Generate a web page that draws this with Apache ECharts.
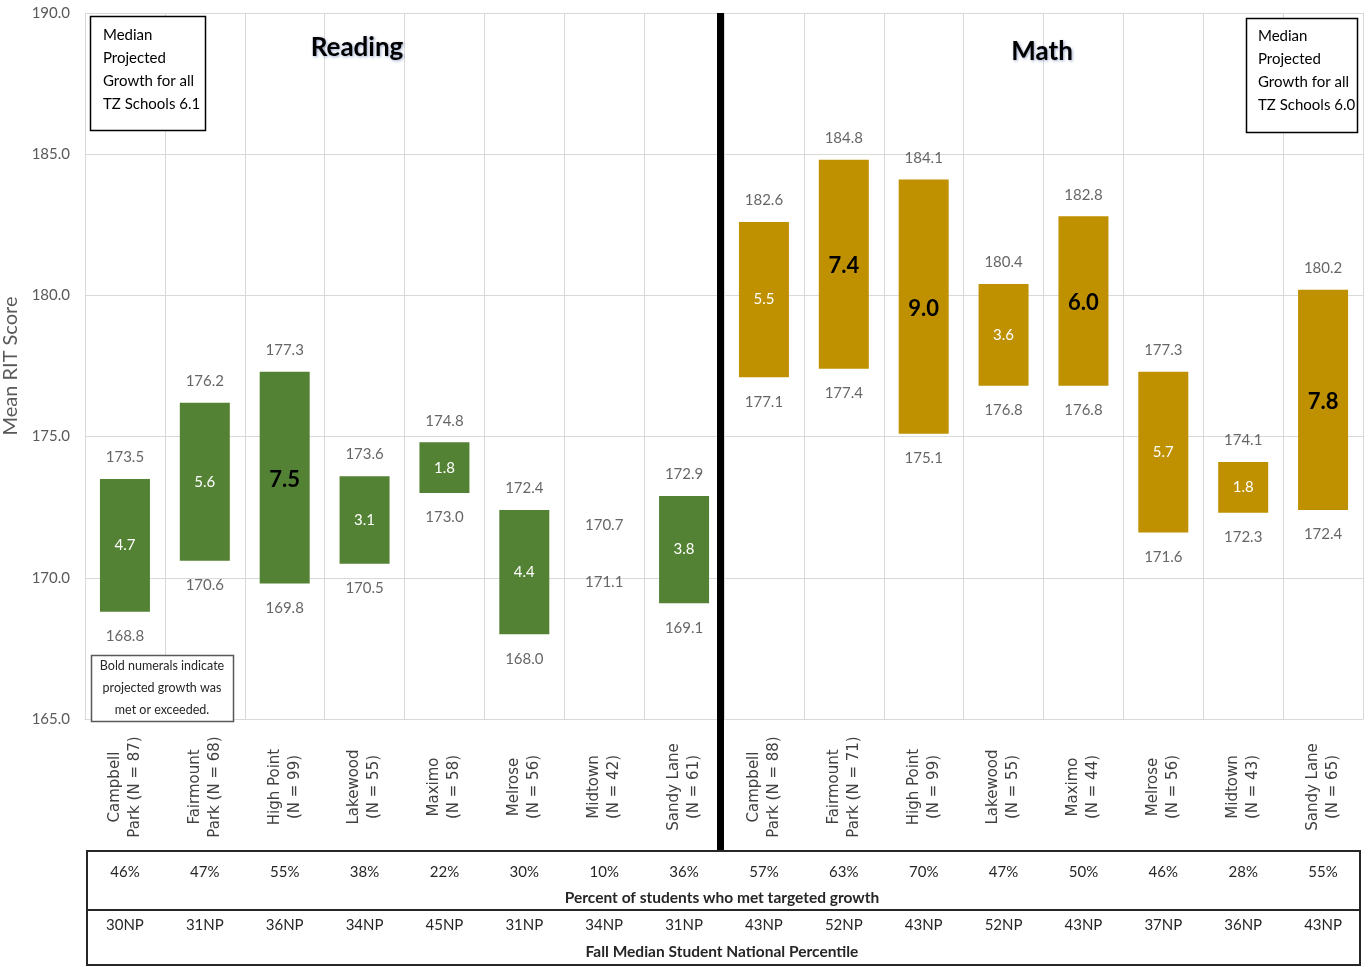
<!DOCTYPE html>
<html>
<head>
<meta charset="utf-8">
<script src="https://cdn.jsdelivr.net/npm/echarts@6/dist/echarts.min.js"></script>
<style>
html,body{margin:0;padding:0;background:#fff;}
#chart{width:1371px;height:967px;}
</style>
</head>
<body>
<div id="chart"></div>
<script>
// ---- data ----
const categories = [
  'Campbell\nPark (N = 87)', 'Fairmount\nPark (N = 68)', 'High Point\n(N = 99)', 'Lakewood\n(N = 55)',
  'Maximo\n(N = 58)', 'Melrose\n(N = 56)', 'Midtown\n(N = 42)', 'Sandy Lane\n(N = 61)',
  'Campbell\nPark (N = 88)', 'Fairmount\nPark (N = 71)', 'High Point\n(N = 99)', 'Lakewood\n(N = 55)',
  'Maximo\n(N = 44)', 'Melrose\n(N = 56)', 'Midtown\n(N = 43)', 'Sandy Lane\n(N = 65)'
];
const readingFall   = [168.8, 170.6, 169.8, 170.5, 173.0, 168.0, 171.1, 169.1];
const readingSpring = [173.5, 176.2, 177.3, 173.6, 174.8, 172.4, 170.7, 172.9];
const readingGrowth = [4.7, 5.6, 7.5, 3.1, 1.8, 4.4, null, 3.8];
const mathFall      = [177.1, 177.4, 175.1, 176.8, 176.8, 171.6, 172.3, 172.4];
const mathSpring    = [182.6, 184.8, 184.1, 180.4, 182.8, 177.3, 174.1, 180.2];
const mathGrowth    = [5.5, 7.4, 9.0, 3.6, 6.0, 5.7, 1.8, 7.8];
const projectedReading = 6.1;
const projectedMath = 6.0;
const pctMet = ['46%', '47%', '55%', '38%', '22%', '30%', '10%', '36%',
                '57%', '63%', '70%', '47%', '50%', '46%', '28%', '55%'];
const fallNP = ['30NP', '31NP', '36NP', '34NP', '45NP', '31NP', '34NP', '31NP',
                '43NP', '52NP', '43NP', '52NP', '43NP', '37NP', '36NP', '43NP'];
const yTicks = { min: 165, max: 190, interval: 5 };

// ---- derived ----
const fall = readingFall.concat(mathFall);
const spring = readingSpring.concat(mathSpring);
const growth = readingGrowth.concat(mathGrowth);
const projected = categories.map((c, i) => i < 8 ? projectedReading : projectedMath);
const baseData = fall.map((f, i) => Math.min(f, spring[i]));
const rangeData = fall.map((f, i) => +(Math.abs(spring[i] - f)).toFixed(1));
const topData = fall.map((f, i) => [i, Math.max(f, spring[i])]);
const botData = fall.map((f, i) => [i, Math.min(f, spring[i])]);

const GREEN = '#548235', GOLD = '#BF9000';
const FONT = 'Lato, "Open Sans", sans-serif';
const GRID = { left: 85, right: 8, top: 13, bottom: 248, outerBoundsMode: 'none', containLabel: false };

const chart = echarts.init(document.getElementById('chart'), null, { renderer: 'canvas' });

const option = {
  animation: false,
  backgroundColor: '#fff',
  grid: GRID,
  xAxis: [
    {
      type: 'category', data: categories,
      axisLine: { show: true, lineStyle: { color: '#d9d9d9', width: 1 } },
      axisTick: { show: false },
      splitLine: { show: true, interval: 0, lineStyle: { color: '#d9d9d9', width: 1 } },
      axisLabel: {
        interval: 0, rotate: 90, align: 'center', verticalAlign: 'middle', margin: 68,
        fontFamily: '"DejaVu Sans", sans-serif', fontSize: 15, color: '#404040', lineHeight: 20
      }
    },
    {
      type: 'category', data: pctMet, position: 'bottom', offset: 146,
      axisLine: { show: false }, axisTick: { show: false }, splitLine: { show: false },
      axisLabel: { interval: 0, margin: 0, fontFamily: FONT, fontSize: 15, color: '#262626' }
    },
    {
      type: 'category', data: fallNP, position: 'bottom', offset: 199,
      axisLine: { show: false }, axisTick: { show: false }, splitLine: { show: false },
      axisLabel: { interval: 0, margin: 0, fontFamily: FONT, fontSize: 15, color: '#262626' }
    }
  ],
  yAxis: {
    type: 'value', min: yTicks.min, max: yTicks.max, interval: yTicks.interval,
    name: 'Mean RIT Score', nameLocation: 'middle', nameGap: 62, nameRotate: 90,
    nameTextStyle: { fontFamily: FONT, fontSize: 20, color: '#595959' },
    axisLine: { show: true, lineStyle: { color: '#d9d9d9' } },
    axisTick: { show: false },
    splitLine: { show: true, lineStyle: { color: '#d9d9d9', width: 1 } },
    axisLabel: {
      formatter: v => v.toFixed(1), fontFamily: FONT, fontSize: 15, color: '#595959', margin: 15
    }
  },
  series: [
    {
      type: 'bar', stack: 'r', data: baseData, barWidth: 50,
      itemStyle: { color: 'rgba(0,0,0,0)' }, silent: true, z: 2
    },
    {
      type: 'bar', stack: 'r', data: rangeData, barWidth: 50, z: 3,
      itemStyle: {
        color: p => spring[p.dataIndex] < fall[p.dataIndex] ? 'rgba(0,0,0,0)' : (p.dataIndex < 8 ? GREEN : GOLD)
      },
      label: {
        show: true, position: 'inside',
        formatter: p => {
          const g = growth[p.dataIndex];
          if (g === null) return '';
          return g >= projected[p.dataIndex] ? '{b|' + g.toFixed(1) + '}' : '{n|' + g.toFixed(1) + '}';
        },
        rich: {
          n: { fontFamily: FONT, fontSize: 15, color: '#ffffff' },
          b: { fontFamily: FONT, fontSize: 22, fontWeight: 'bold', color: '#000000', padding: [4, 0, 0, 0] }
        }
      }
    },
    {
      type: 'scatter', data: topData, symbolSize: 0, silent: true, z: 4,
      label: {
        show: true, position: 'top', distance: 14,
        formatter: p => spring[p.dataIndex].toFixed(1),
        fontFamily: FONT, fontSize: 15, color: '#404040'
      }
    },
    {
      type: 'scatter', data: botData, symbolSize: 0, silent: true, z: 4,
      label: {
        show: true, position: 'bottom', distance: 17,
        formatter: p => fall[p.dataIndex].toFixed(1),
        fontFamily: FONT, fontSize: 15, color: '#404040'
      }
    }
  ],
  graphic: [
    // divider between Reading and Math
    { type: 'rect', z: 50, shape: { x: 717, y: 13, width: 7, height: 838 }, style: { fill: '#000' } },
    // table box
    { type: 'rect', z: 50, shape: { x: 87, y: 851, width: 1273, height: 114 }, style: { fill: 'none', stroke: '#262626', lineWidth: 2 } },
    { type: 'line', z: 50, shape: { x1: 87, y1: 910, x2: 1360, y2: 910 }, style: { stroke: '#262626', lineWidth: 2 } },
    { type: 'text', z: 50, x: 722, y: 898, style: { text: 'Percent of students who met targeted growth', fontFamily: FONT, fontSize: 15.5, fontWeight: 'bold', fill: '#262626', align: 'center', verticalAlign: 'middle' } },
    { type: 'text', z: 50, x: 722, y: 952, style: { text: 'Fall Median Student National Percentile', fontFamily: FONT, fontSize: 15.5, fontWeight: 'bold', fill: '#262626', align: 'center', verticalAlign: 'middle' } },
    // titles
    { type: 'text', z: 50, x: 357, y: 48, style: { text: 'Reading', fontFamily: FONT, fontSize: 26, fontWeight: 'bold', fill: '#000', align: 'center', verticalAlign: 'middle', textShadowColor: 'rgba(30,60,140,0.45)', textShadowBlur: 3, textShadowOffsetX: 1, textShadowOffsetY: 1 } },
    { type: 'text', z: 50, x: 1042, y: 52, style: { text: 'Math', fontFamily: FONT, fontSize: 26, fontWeight: 'bold', fill: '#000', align: 'center', verticalAlign: 'middle', textShadowColor: 'rgba(30,60,140,0.45)', textShadowBlur: 3, textShadowOffsetX: 1, textShadowOffsetY: 1 } },
    // projected growth boxes
    { type: 'rect', z: 50, shape: { x: 90.5, y: 16.5, width: 115, height: 114 }, style: { fill: '#fff', stroke: '#000', lineWidth: 1.5 } },
    { type: 'text', z: 51, x: 103, y: 24, style: { text: 'Median\nProjected\nGrowth for all\nTZ Schools ' + projectedReading.toFixed(1), fontFamily: FONT, fontSize: 15, lineHeight: 23, fill: '#000' } },
    { type: 'rect', z: 50, shape: { x: 1246.5, y: 18.5, width: 111, height: 114 }, style: { fill: '#fff', stroke: '#000', lineWidth: 1.5 } },
    { type: 'text', z: 51, x: 1258, y: 25, style: { text: 'Median\nProjected\nGrowth for all\nTZ Schools ' + projectedMath.toFixed(1), fontFamily: FONT, fontSize: 15, lineHeight: 23, fill: '#000' } },
    // bold note box
    { type: 'rect', z: 50, shape: { x: 91.5, y: 655.5, width: 142, height: 66 }, style: { fill: '#fff', stroke: '#595959', lineWidth: 1.5 } },
    { type: 'text', z: 51, x: 162, y: 688, style: { text: 'Bold numerals indicate\nprojected growth was\nmet or exceeded.', fontFamily: FONT, fontSize: 12.5, lineHeight: 22, fill: '#262626', align: 'center', verticalAlign: 'middle' } }
  ]
};

chart.setOption(option);
</script>
</body>
</html>
